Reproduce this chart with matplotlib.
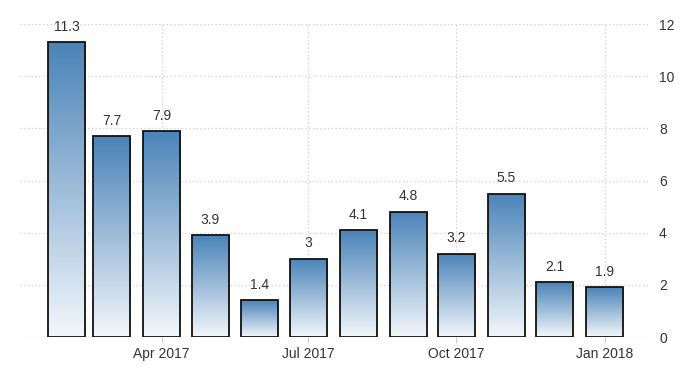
import datetime as dt

import matplotlib

matplotlib.use("Agg")
import matplotlib.dates as mdates
import matplotlib.pyplot as plt
import numpy as np
from matplotlib.colors import LinearSegmentedColormap
from matplotlib.patches import Rectangle

# Monthly values, Feb 2017 .. Jan 2018
months = ["2017-02", "2017-03", "2017-04", "2017-05", "2017-06", "2017-07",
          "2017-08", "2017-09", "2017-10", "2017-11", "2017-12", "2018-01"]
values = [11.3, 7.7, 7.9, 3.9, 1.4, 3, 4.1, 4.8, 3.2, 5.5, 2.1, 1.9]
value_labels = ["11.3", "7.7", "7.9", "3.9", "1.4", "3", "4.1", "4.8", "3.2",
                "5.5", "2.1", "1.9"]
tick_months = ["2017-04", "2017-07", "2017-10", "2018-01"]
tick_labels = ["Apr 2017", "Jul 2017", "Oct 2017", "Jan 2018"]
y_ticks = [0, 2, 4, 6, 8, 10, 12]

FONT = ["Liberation Sans Narrow", "Liberation Sans", "DejaVu Sans"]
TEXT = "#333333"


def to_num(s):
    y, m = s.split("-")
    return mdates.date2num(dt.date(int(y), int(m), 1))


fig = plt.figure(figsize=(7, 3.75), dpi=100)
ax = fig.add_axes([0.0286, 0.1013, 0.8971, 0.8347])

cmap = LinearSegmentedColormap.from_list("grad", ["#f3f7fb", "#4a83b8"])
grad = np.linspace(0, 1, 256).reshape(-1, 1)
width = 23  # days

xs = [to_num(m) for m in months]
for x, v, lbl in zip(xs, values, value_labels):
    x0, x1 = x - width / 2, x + width / 2
    im = ax.imshow(grad, cmap=cmap, origin="lower", aspect="auto",
                   extent=[x0, x1, 0, v], zorder=2)
    rect = Rectangle((x0, 0), width, v, facecolor="none",
                     edgecolor="#111111", lw=1.3, zorder=3)
    ax.add_patch(rect)
    im.set_clip_path(rect)
    ax.annotate(lbl, (x, v), xytext=(0, 6), textcoords="offset points",
                ha="center", va="bottom", fontsize=10, color=TEXT,
                family=FONT)

ax.set_xlim(mdates.date2num(dt.date(2017, 1, 3)),
            mdates.date2num(dt.date(2018, 1, 28)))
ax.set_ylim(0, 12)

ax.set_xticks([to_num(m) for m in tick_months])
ax.set_xticklabels(tick_labels, family=FONT, fontsize=10, color=TEXT)
ax.set_yticks(y_ticks)
ax.set_yticklabels([str(t) for t in y_ticks], family=FONT, fontsize=10,
                   color=TEXT)
ax.yaxis.tick_right()
ax.tick_params(axis="y", length=0, pad=8)
ax.tick_params(axis="x", length=4, color="#cccccc", pad=3)

ax.grid(True, ls=(0, (1, 2)), color="#cfcfcf", lw=0.9, zorder=0)
ax.set_axisbelow(True)
for s in ax.spines.values():
    s.set_visible(False)

fig.savefig("out.png", dpi=100)
